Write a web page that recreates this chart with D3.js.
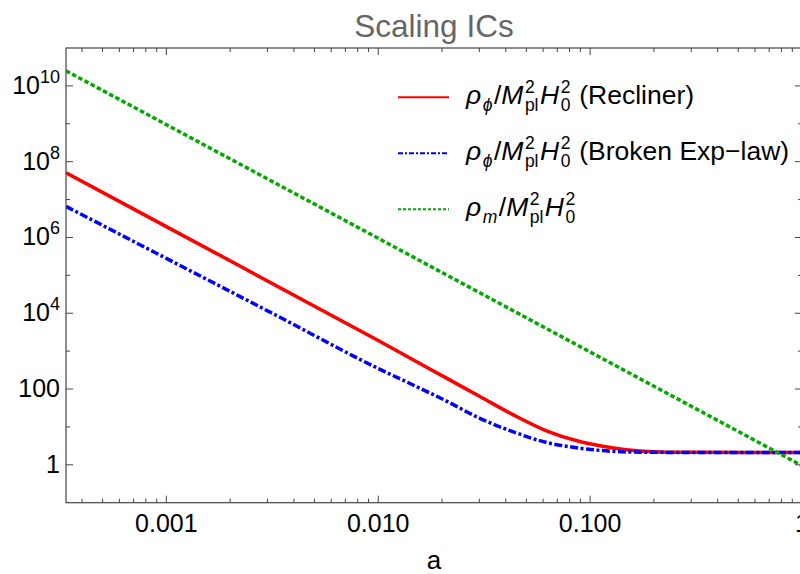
<!DOCTYPE html>
<html>
<head>
<meta charset="utf-8">
<script src="https://cdn.jsdelivr.net/npm/d3@7"></script>
<style>
  body { margin: 0; background: #fff; }
  text { font-family: "Liberation Sans", Arial, sans-serif; }
</style>
</head>
<body>
<script>
// values (a, rho / Mpl^2 H0^2)
const aRecliner = [3.36e-4, 0.001, 0.01, 0.021, 0.0302, 0.0434, 0.0622, 0.0893, 0.111, 0.148, 0.213, 0.316, 1];
const rhoRecliner = [5.1e7, 1.93e6, 1.9e3, 194, 63.4, 20.8, 7.9, 4.12, 3.2, 2.51, 2.19, 2.14, 2.11];

const aBroken = [3.36e-4, 0.001, 0.00316, 0.0102, 0.0146, 0.021, 0.0302, 0.0434, 0.0622, 0.0893, 0.111, 0.148, 0.213, 1];
const rhoBroken = [6.6e6, 2.8e5, 1.0e4, 330, 128, 48, 16.8, 7.4, 3.89, 2.75, 2.4, 2.19, 2.13, 2.11];

const aMatter = [3.36e-4, 0.001, 0.01, 0.1, 1];
const rhoMatter = [2.5e10, 9.5e8, 9.5e5, 950, 0.95];

const xDomain = [3.36e-4, 1];
const yDomain = [0.1, 1e11];
const xTicks = [0.001, 0.01, 0.1, 1];
const xTickLabels = ["0.001", "0.010", "0.100", "1"];
const yTicks = [1, 100, 1e4, 1e6, 1e8, 1e10];
const yTickLabels = [["1", ""], ["100", ""], ["10", "4"], ["10", "6"], ["10", "8"], ["10", "10"]];

const width = 800, height = 574;
const margin = {top: 48, left: 66, right: 802, bottom: 502.7};

const svg = d3.select("body").append("svg")
    .attr("width", width)
    .attr("height", height);

const xScale = d3.scaleLog().domain(xDomain).range([margin.left, margin.right]);
const yScale = d3.scaleLog().domain(yDomain).range([margin.bottom, margin.top]);

const axisColor = "#444";

// title
svg.append("text")
    .attr("x", (margin.left + margin.right) / 2)
    .attr("y", 37)
    .attr("text-anchor", "middle")
    .attr("font-size", 31.5)
    .attr("fill", "#666")
    .text("Scaling ICs");

// clip for the curves
svg.append("clipPath").attr("id", "plotclip")
  .append("rect")
    .attr("x", margin.left).attr("y", margin.top)
    .attr("width", margin.right - margin.left)
    .attr("height", margin.bottom - margin.top);

const series = [
    {a: aRecliner, v: rhoRecliner, color: "#ff0000", dash: null, legendDash: null},
    {a: aBroken, v: rhoBroken, color: "#0000ff", dash: "8,2.5,3,2.5", legendDash: "5,2,2,2"},
    {a: aMatter, v: rhoMatter, color: "#00aa00", dash: "4.5,2.5", legendDash: "3,2"}
];

const line = d3.line()
    .x(d => xScale(d[0]))
    .y(d => yScale(d[1]))
    .curve(d3.curveMonotoneX);

const plot = svg.append("g").attr("clip-path", "url(#plotclip)");
series.forEach(s => {
    plot.append("path")
        .datum(s.a.map((a, i) => [a, s.v[i]]))
        .attr("fill", "none")
        .attr("stroke", s.color)
        .attr("stroke-width", 3.5)
        .attr("stroke-dasharray", s.dash)
        .attr("d", line);
});

// frame
const frame = svg.append("g").attr("stroke", axisColor).attr("stroke-width", 1.2).attr("fill", "none");
frame.append("rect")
    .attr("x", margin.left).attr("y", margin.top)
    .attr("width", margin.right - margin.left)
    .attr("height", margin.bottom - margin.top);

// x ticks (major + minor), mirrored on top
const xMinor = [];
[1e-4, 1e-3, 1e-2, 1e-1].forEach(dec => {
    for (let m = 2; m <= 9; m++) {
        const v = dec * m;
        if (v >= xDomain[0] && v <= xDomain[1]) xMinor.push(v);
    }
});
const tickG = svg.append("g").attr("stroke", axisColor).attr("stroke-width", 1);
xTicks.forEach(v => {
    const x = xScale(v);
    tickG.append("line").attr("x1", x).attr("x2", x).attr("y1", margin.bottom).attr("y2", margin.bottom - 7);
    tickG.append("line").attr("x1", x).attr("x2", x).attr("y1", margin.top).attr("y2", margin.top + 7);
});
xMinor.forEach(v => {
    const x = xScale(v);
    tickG.append("line").attr("x1", x).attr("x2", x).attr("y1", margin.bottom).attr("y2", margin.bottom - 4);
    tickG.append("line").attr("x1", x).attr("x2", x).attr("y1", margin.top).attr("y2", margin.top + 4);
});

// y ticks: labelled every two decades, minor ticks at odd decades
const yMinor = [1e1, 1e3, 1e5, 1e7, 1e9];
yTicks.forEach(v => {
    const y = yScale(v);
    tickG.append("line").attr("x1", margin.left).attr("x2", margin.left + 7).attr("y1", y).attr("y2", y);
    tickG.append("line").attr("x1", margin.right).attr("x2", margin.right - 7).attr("y1", y).attr("y2", y);
});
yMinor.forEach(v => {
    const y = yScale(v);
    tickG.append("line").attr("x1", margin.left).attr("x2", margin.left + 4).attr("y1", y).attr("y2", y);
    tickG.append("line").attr("x1", margin.right).attr("x2", margin.right - 4).attr("y1", y).attr("y2", y);
});

// tick labels
xTicks.forEach((v, i) => {
    svg.append("text")
        .attr("x", xScale(v))
        .attr("y", margin.bottom + 29)
        .attr("text-anchor", "middle")
        .attr("font-size", 25)
        .attr("fill", "#000")
        .text(xTickLabels[i]);
});
yTicks.forEach((v, i) => {
    const t = svg.append("text")
        .attr("x", 60)
        .attr("y", yScale(v) + 8)
        .attr("text-anchor", "end")
        .attr("font-size", 25)
        .attr("fill", "#000");
    t.append("tspan").text(yTickLabels[i][0]);
    if (yTickLabels[i][1]) {
        t.append("tspan").attr("dy", -11).attr("font-size", 18).text(yTickLabels[i][1]);
    }
});

// axis label
svg.append("text")
    .attr("x", (margin.left + margin.right) / 2)
    .attr("y", 569)
    .attr("text-anchor", "middle")
    .attr("font-size", 26)
    .text("a");

// legend with math-ish labels built from pieces
const mathLabel = (g, x0, y0, parts) => {
    let x = x0;
    parts.forEach(p => {
        if (p.sup !== undefined || p.sub !== undefined) {
            let w = 0;
            if (p.sup) {
                const t = g.append("text").attr("x", x + 1.5).attr("y", y0 - 11)
                    .attr("font-size", 17.5).text(p.sup);
                w = Math.max(w, t.node().getComputedTextLength());
            }
            if (p.sub) {
                const t = g.append("text").attr("x", x + 1.5).attr("y", y0 + 7)
                    .attr("font-size", 17.5)
                    .attr("font-style", p.subIt ? "italic" : null)
                    .text(p.sub);
                w = Math.max(w, t.node().getComputedTextLength());
            }
            x += w + 3;
        } else {
            const t = g.append("text").attr("x", x).attr("y", y0)
                .attr("font-size", 26.5)
                .attr("font-style", p.it ? "italic" : null)
                .text(p.t);
            x += t.node().getComputedTextLength();
        }
    });
};

const denom = [
    {t: "/"}, {t: "M", it: true}, {sup: "2", sub: "pl"},
    {t: "H", it: true}, {sup: "2", sub: "0"}
];
const legendItems = [
    [{t: "ρ", it: true}, {sub: "ϕ", subIt: true}, ...denom, {t: "\u00a0(Recliner)"}],
    [{t: "ρ", it: true}, {sub: "ϕ", subIt: true}, ...denom, {t: "\u00a0(Broken Exp\u2212law)"}],
    [{t: "ρ", it: true}, {sub: "m", subIt: true}, ...denom]
];

const legend = svg.append("g");
legendItems.forEach((parts, i) => {
    const y = 97.3 + 56 * i;
    legend.append("line")
        .attr("x1", 398).attr("x2", 449)
        .attr("y1", y).attr("y2", y)
        .attr("stroke", series[i].color)
        .attr("stroke-width", 2)
        .attr("stroke-dasharray", series[i].legendDash);
    mathLabel(legend, 466, y + 7, parts);
});
</script>
</body>
</html>
